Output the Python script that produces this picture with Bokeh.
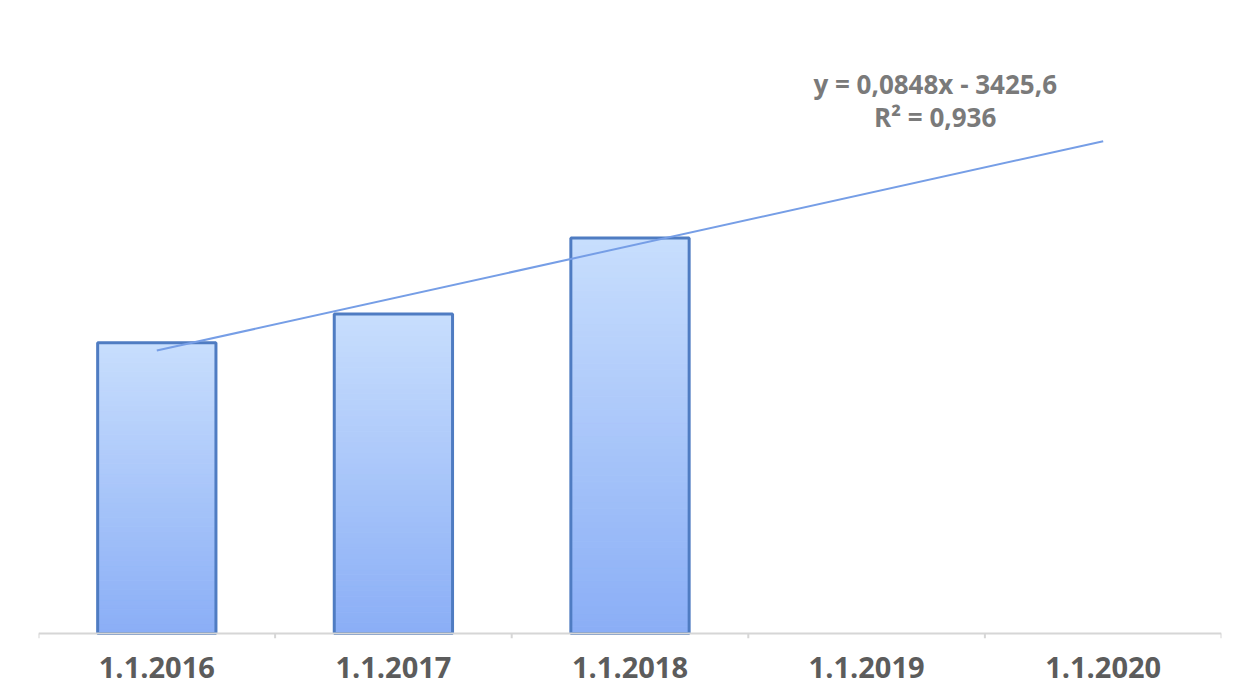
import numpy as np
from bokeh.plotting import figure
from bokeh.models import FixedTicker, Range1d
from bokeh.core.properties import value
from bokeh.embed import file_html
from bokeh.resources import INLINE

# ---- data ----
categories = ["1.1.2016", "1.1.2017", "1.1.2018", "1.1.2019", "1.1.2020"]
values = [172, 189, 234]                     # bars (only first three years have data)
date_serials = [42370, 42736, 43101, 43466, 43831]  # Excel serial numbers of the dates
trend_slope = 0.0848
trend_intercept = -3425.6
equation_text = "y = 0,0848x - 3425,6"
r2_text = "R² = 0,936"

# ---- styling ----
TOP_COL = np.array([0xC8, 0xDE, 0xFD])
BOT_COL = np.array([0x8A, 0xAE, 0xF6])
EDGE = "#4F7CC2"
TREND = "#769EE6"
TEXT = "#5C5C5C"

PX_PER_UNIT = 1.69
TOP_BORDER = 52
FRAME_BOTTOM = 638
y_start = -3.0
y_end = (FRAME_BOTTOM - TOP_BORDER) / PX_PER_UNIT + y_start

p = figure(width=1230, height=688, output_backend="svg", toolbar_location=None,
           x_range=Range1d(0, len(categories)), y_range=Range1d(y_start, y_end),
           min_border_left=38, min_border_right=9, min_border_top=TOP_BORDER,
           min_border_bottom=688 - FRAME_BOTTOM)
p.outline_line_color = None
p.grid.visible = False
p.yaxis.visible = False
p.background_fill_color = "white"

xs = np.arange(len(categories)) + 0.5

# gradient bars built from slices
N = 60
for i, v in enumerate(values):
    fr = np.linspace(0, 1, N + 1)
    bottoms = v * fr[:-1]
    tops = v * fr[1:]
    cols = []
    for f in (fr[:-1] + fr[1:]) / 2:
        c = BOT_COL + (TOP_COL - BOT_COL) * f
        cols.append("#%02x%02x%02x" % tuple(int(round(t)) for t in c))
    p.quad(left=xs[i] - 0.25, right=xs[i] + 0.25, bottom=bottoms, top=tops,
           fill_color=cols, line_color=cols, line_width=1)
p.vbar(x=xs[:len(values)], top=values, bottom=0, width=0.5, fill_color=None,
       line_color=EDGE, line_width=3)

# axis line and boundary ticks
bounds = np.arange(len(categories) + 1)
p.segment(x0=[0], y0=[0], x1=[len(categories)], y1=[0], line_color="#D6D6D6", line_width=2)
p.segment(x0=bounds, y0=[0] * len(bounds), x1=bounds, y1=[y_start] * len(bounds),
          line_color="#D6D6D6", line_width=2)

# trend line
trend_y = [trend_slope * s + trend_intercept for s in date_serials]
p.line(x=[xs[0], xs[-1]], y=[trend_y[0], trend_y[-1]], line_color=TREND, line_width=2)

# equation text
p.text(x=[3.79, 3.79], y=[325.0, 305.5], text=[equation_text, r2_text],
       text_align="center", text_baseline="middle", text_color="#7A7A7A",
       text_font=value("Open Sans"), text_font_style="bold", text_font_size="26px")

# category axis labels
p.xaxis.ticker = FixedTicker(ticks=list(xs))
p.xaxis.major_label_overrides = {float(x): c for x, c in zip(xs, categories)}
p.xaxis.axis_line_color = None
p.xaxis.major_tick_line_color = None
p.xaxis.minor_tick_line_color = None
p.xaxis.major_label_text_font = "Open Sans"
p.xaxis.major_label_text_font_style = "bold"
p.xaxis.major_label_text_font_size = "29px"
p.xaxis.major_label_text_color = TEXT
p.xaxis.major_label_standoff = 12

open("out.html", "w").write(file_html(p, INLINE))
